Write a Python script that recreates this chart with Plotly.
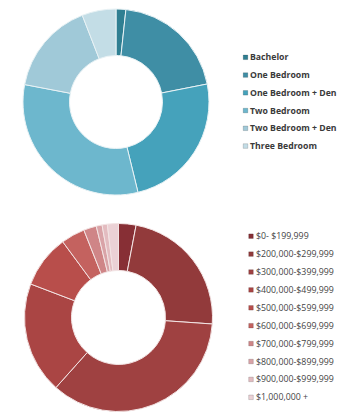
import plotly.graph_objects as go

W, H = 350, 420

# Unit mix (share of units, %)
unit_types = ["Bachelor", "One Bedroom", "One Bedroom + Den",
              "Two Bedroom", "Two Bedroom + Den", "Three Bedroom"]
unit_share = [1.7, 20.2, 24.3, 31.8, 16.1, 5.9]
unit_colors = ["#2f7f92", "#3f8ea5", "#45a2bb", "#6db7cd", "#a0c9d8", "#c3dde6"]

# Price ranges (share of units, %)
price_ranges = ["$0- $199,999", "$200,000-$299,999", "$300,000-$399,999",
                "$400,000-$499,999", "$500,000-$599,999", "$600,000-$699,999",
                "$700,000-$799,999", "$800,000-$899,999", "$900,000-$999,999",
                "$1,000,000 +"]
price_share = [3.0, 23.1, 35.5, 19.2, 9.1, 4.1, 2.2, 1.0, 0.9, 1.9]
price_colors = ["#872f35", "#923a3b", "#9f4141", "#aa4544", "#b84e4b",
                "#c4625f", "#cf8587", "#d9a3a7", "#e3bcc0", "#ebd1d5"]


def px_x(v):
    return v / W


def px_y(v):
    return 1 - v / H


fig = go.Figure()

fig.add_trace(go.Pie(
    labels=unit_types, values=unit_share, sort=False, direction="clockwise",
    hole=0.5, textinfo="none", showlegend=False,
    marker=dict(colors=unit_colors, line=dict(color="#e8f2f5", width=1)),
    domain=dict(x=[px_x(23), px_x(209)], y=[px_y(195), px_y(9)]),
))

fig.add_trace(go.Pie(
    labels=price_ranges, values=price_share, sort=False, direction="clockwise",
    hole=0.5, textinfo="none", showlegend=False,
    marker=dict(colors=price_colors, line=dict(color="#f3e4e4", width=1)),
    domain=dict(x=[px_x(24.5), px_x(212.5)], y=[px_y(411.5), px_y(223.5)]),
))

shapes, annotations = [], []


def add_key(labels, colors, sq_x, txt_x, y0, step, size, font):
    for i, (lab, col) in enumerate(zip(labels, colors)):
        yc = y0 + i * step
        shapes.append(dict(
            type="rect", xref="paper", yref="paper",
            x0=px_x(sq_x - size / 2), x1=px_x(sq_x + size / 2),
            y0=px_y(yc + size / 2), y1=px_y(yc - size / 2),
            fillcolor=col, line=dict(width=0.6, color="rgba(0,0,0,0.25)"),
        ))
        annotations.append(dict(
            text=lab, xref="paper", yref="paper", x=px_x(txt_x), y=px_y(yc),
            xanchor="left", yanchor="middle", showarrow=False, font=font,
        ))


add_key(unit_types, unit_colors, 245.5, 248, 57.3, 17.75, 4.6,
        dict(family="Open Sans", size=8.7, color="#3a3a3a", weight=700))
add_key(price_ranges, price_colors, 251, 253.5, 236.2, 17.9, 4.6,
        dict(family="Open Sans", size=8.8, color="#454545"))

fig.update_layout(
    width=W, height=H, margin=dict(l=0, r=0, t=0, b=0),
    paper_bgcolor="white", plot_bgcolor="white",
    shapes=shapes, annotations=annotations, showlegend=False,
)

fig.write_html("out.html")
